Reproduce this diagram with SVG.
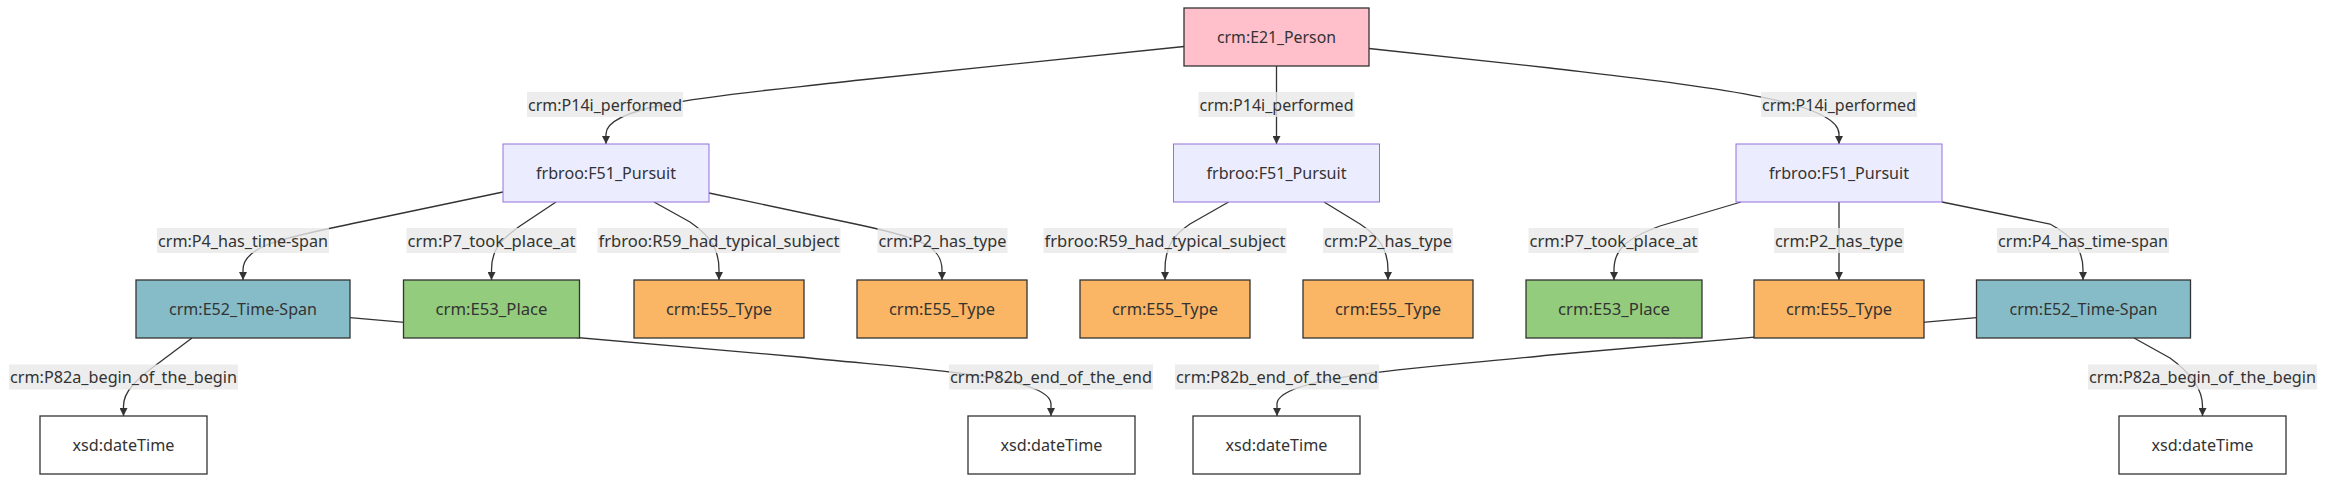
<svg xmlns="http://www.w3.org/2000/svg" width="2352" height="489" viewBox="0 0 2352 489">
<style>
.n rect{stroke:#333;stroke-width:1.3}
.person rect{fill:#FFC0CB}
.pursuit rect{fill:#ECECFF;stroke:#9370DB;stroke-width:1}
.ts rect{fill:#86BCC8}
.place rect{fill:#94CC7D}
.type rect{fill:#FAB565}
.dt rect{fill:#FFFFFF}
text{font-family:"Trebuchet MS","Noto Sans","Liberation Sans",sans-serif;font-size:16px;fill:#333;text-anchor:middle;dominant-baseline:central}
.edges path{fill:none;stroke:#333;stroke-width:1.3;marker-end:url(#arr)}
.lbl rect{fill:#e8e8e8;fill-opacity:0.8}
</style>
<defs>
<marker id="arr" viewBox="0 0 10 10" refX="10" refY="5" markerWidth="8" markerHeight="8" markerUnits="userSpaceOnUse" orient="auto">
<path d="M0,0 L10,5 L0,10 z" fill="#333"/>
</marker>
</defs>
<rect width="2352" height="489" fill="#fff"/>
<g id="edges" class="edges">
<path d="M1184,46.5 L860,80 C740,94 606,102 606,134 L606,144"/>
<path d="M1276.5,66 L1276.5,144"/>
<path d="M1369,48.5 L1550,68 C1700,86 1839,100 1839,134 L1839,144"/>
<path d="M503,192 L360,222 C290,237 243,244 243,270 L243,280"/>
<path d="M556,202 L520,226 C500,240 491.5,250 491.5,270 L491.5,280"/>
<path d="M654,202 L690,222 C710,236 719,248 719,270 L719,280"/>
<path d="M709,193 L860,225 C920,238 942,246 942,270 L942,280"/>
<path d="M1228.6,202 L1190,224 C1172,236 1165,248 1165,270 L1165,280"/>
<path d="M1324,202 L1360,224 C1378,236 1388,248 1388,270 L1388,280"/>
<path d="M1741,202 L1660,226 C1628,238 1614,248 1614,270 L1614,280"/>
<path d="M1839,202 L1839,280"/>
<path d="M1942,202 L2050,224 C2072,236 2083,248 2083,270 L2083,280"/>
<path d="M192,338 L160,362 C135,380 123.5,392 123.5,406 L123.5,416"/>
<path d="M350,317.7 L800,357 C900,368 1051,374 1051,404 L1051,416"/>
<path d="M1976.5,317.7 L1550,355 C1450,366 1277,374 1277,404 L1277,416"/>
<path d="M2134,338 L2170,358 C2192,374 2202.5,390 2202.5,406 L2202.5,416"/>
</g>
<g id="edge-labels" class="lbl">
<g><rect x="527" y="92" width="156" height="25"/><text x="605" y="104.5" textLength="154" lengthAdjust="spacingAndGlyphs">crm:P14i_performed</text></g>
<g><rect x="1198.5" y="92" width="156" height="25"/><text x="1276.5" y="104.5" textLength="154" lengthAdjust="spacingAndGlyphs">crm:P14i_performed</text></g>
<g><rect x="1761" y="92" width="156" height="25"/><text x="1839" y="104.5" textLength="154" lengthAdjust="spacingAndGlyphs">crm:P14i_performed</text></g>
<g><rect x="157" y="228" width="172" height="25"/><text x="243" y="240.5" textLength="170" lengthAdjust="spacingAndGlyphs">crm:P4_has_time-span</text></g>
<g><rect x="406.5" y="228" width="170" height="25"/><text x="491.5" y="240.5" textLength="168" lengthAdjust="spacingAndGlyphs">crm:P7_took_place_at</text></g>
<g><rect x="597.5" y="228" width="243" height="25"/><text x="719" y="240.5" textLength="241" lengthAdjust="spacingAndGlyphs">frbroo:R59_had_typical_subject</text></g>
<g><rect x="877.5" y="228" width="130" height="25"/><text x="942.5" y="240.5" textLength="128" lengthAdjust="spacingAndGlyphs">crm:P2_has_type</text></g>
<g><rect x="1043.5" y="228" width="243" height="25"/><text x="1165" y="240.5" textLength="241" lengthAdjust="spacingAndGlyphs">frbroo:R59_had_typical_subject</text></g>
<g><rect x="1323" y="228" width="130" height="25"/><text x="1388" y="240.5" textLength="128" lengthAdjust="spacingAndGlyphs">crm:P2_has_type</text></g>
<g><rect x="1528.5" y="228" width="170" height="25"/><text x="1613.5" y="240.5" textLength="168" lengthAdjust="spacingAndGlyphs">crm:P7_took_place_at</text></g>
<g><rect x="1774" y="228" width="130" height="25"/><text x="1839" y="240.5" textLength="128" lengthAdjust="spacingAndGlyphs">crm:P2_has_type</text></g>
<g><rect x="1997" y="228" width="172" height="25"/><text x="2083" y="240.5" textLength="170" lengthAdjust="spacingAndGlyphs">crm:P4_has_time-span</text></g>
<g><rect x="9" y="364.5" width="229" height="25"/><text x="123.5" y="377" textLength="227" lengthAdjust="spacingAndGlyphs">crm:P82a_begin_of_the_begin</text></g>
<g><rect x="949" y="364.5" width="204" height="25"/><text x="1051" y="377" textLength="202" lengthAdjust="spacingAndGlyphs">crm:P82b_end_of_the_end</text></g>
<g><rect x="1175" y="364.5" width="204" height="25"/><text x="1277" y="377" textLength="202" lengthAdjust="spacingAndGlyphs">crm:P82b_end_of_the_end</text></g>
<g><rect x="2088" y="364.5" width="229" height="25"/><text x="2202.5" y="377" textLength="227" lengthAdjust="spacingAndGlyphs">crm:P82a_begin_of_the_begin</text></g>
</g>
<g id="person" class="n person"><rect x="1184" y="8" width="185" height="58"/><text x="1276.5" y="37" textLength="119" lengthAdjust="spacingAndGlyphs">crm:E21_Person</text></g>
<g id="pursuit1" class="n pursuit"><rect x="503" y="144" width="206" height="58"/><text x="606" y="173" textLength="140" lengthAdjust="spacingAndGlyphs">frbroo:F51_Pursuit</text></g>
<g id="pursuit2" class="n pursuit"><rect x="1173.5" y="144" width="206" height="58"/><text x="1276.5" y="173" textLength="140" lengthAdjust="spacingAndGlyphs">frbroo:F51_Pursuit</text></g>
<g id="pursuit3" class="n pursuit"><rect x="1736" y="144" width="206" height="58"/><text x="1839" y="173" textLength="140" lengthAdjust="spacingAndGlyphs">frbroo:F51_Pursuit</text></g>
<g id="timespan1" class="n ts"><rect x="136" y="280" width="214" height="58"/><text x="243" y="309" textLength="148" lengthAdjust="spacingAndGlyphs">crm:E52_Time-Span</text></g>
<g id="place1" class="n place"><rect x="403.5" y="280" width="176" height="58"/><text x="491.5" y="309" textLength="112" lengthAdjust="spacingAndGlyphs">crm:E53_Place</text></g>
<g id="type1" class="n type"><rect x="634" y="280" width="170" height="58"/><text x="719" y="309" textLength="106" lengthAdjust="spacingAndGlyphs">crm:E55_Type</text></g>
<g id="type2" class="n type"><rect x="857" y="280" width="170" height="58"/><text x="942" y="309" textLength="106" lengthAdjust="spacingAndGlyphs">crm:E55_Type</text></g>
<g id="type3" class="n type"><rect x="1080" y="280" width="170" height="58"/><text x="1165" y="309" textLength="106" lengthAdjust="spacingAndGlyphs">crm:E55_Type</text></g>
<g id="type4" class="n type"><rect x="1303" y="280" width="170" height="58"/><text x="1388" y="309" textLength="106" lengthAdjust="spacingAndGlyphs">crm:E55_Type</text></g>
<g id="place2" class="n place"><rect x="1526" y="280" width="176" height="58"/><text x="1614" y="309" textLength="112" lengthAdjust="spacingAndGlyphs">crm:E53_Place</text></g>
<g id="type5" class="n type"><rect x="1754" y="280" width="170" height="58"/><text x="1839" y="309" textLength="106" lengthAdjust="spacingAndGlyphs">crm:E55_Type</text></g>
<g id="timespan2" class="n ts"><rect x="1976.5" y="280" width="214" height="58"/><text x="2083.5" y="309" textLength="148" lengthAdjust="spacingAndGlyphs">crm:E52_Time-Span</text></g>
<g id="datetime1" class="n dt"><rect x="40" y="416" width="167" height="58"/><text x="123.5" y="445" textLength="102" lengthAdjust="spacingAndGlyphs">xsd:dateTime</text></g>
<g id="datetime2" class="n dt"><rect x="968" y="416" width="167" height="58"/><text x="1051.5" y="445" textLength="102" lengthAdjust="spacingAndGlyphs">xsd:dateTime</text></g>
<g id="datetime3" class="n dt"><rect x="1193" y="416" width="167" height="58"/><text x="1276.5" y="445" textLength="102" lengthAdjust="spacingAndGlyphs">xsd:dateTime</text></g>
<g id="datetime4" class="n dt"><rect x="2119" y="416" width="167" height="58"/><text x="2202.5" y="445" textLength="102" lengthAdjust="spacingAndGlyphs">xsd:dateTime</text></g>
</svg>
